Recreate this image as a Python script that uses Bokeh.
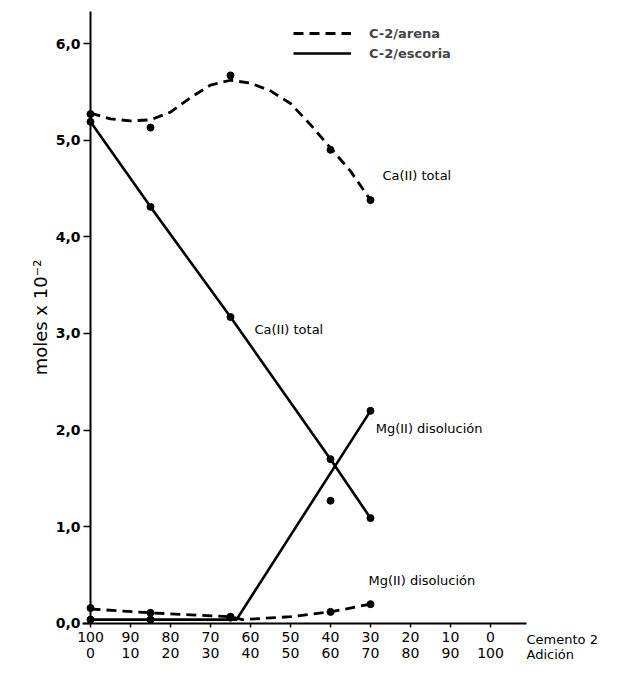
from bokeh.plotting import figure
from bokeh.models import Range1d, LinearAxis, FixedTicker, Label, Legend, LegendItem
from bokeh.embed import file_html
from bokeh.resources import INLINE

# ---- data ----
x_ticks = [0, 10, 20, 30, 40, 50, 60, 70, 80, 90, 100]
cemento_labels = ["100", "90", "80", "70", "60", "50", "40", "30", "20", "10", "0"]
adicion_labels = ["0", "10", "20", "30", "40", "50", "60", "70", "80", "90", "100"]
y_ticks = [0, 1, 2, 3, 4, 5, 6]
y_labels = ["0,0", "1,0", "2,0", "3,0", "4,0", "5,0", "6,0"]

x_pts = [0, 15, 35, 60, 70]
ca_arena = [5.27, 5.13, 5.67, 4.90, 4.38]
ca_escoria = [5.19, 4.31, 3.17, 1.70, 1.09]
mg_arena = [0.16, 0.11, 0.07, 0.12, 0.20]
mg_escoria = [0.04, 0.04, 0.06, 1.27, 2.20]

# smooth curves / trend lines as drawn in the figure
ca_arena_curve_x = [0, 5, 10, 15, 20, 25, 30, 35, 40, 45, 50, 55, 60, 65, 70]
ca_arena_curve_y = [5.28, 5.22, 5.20, 5.21, 5.29, 5.44, 5.57, 5.62, 5.59, 5.51, 5.38, 5.16, 4.92, 4.68, 4.38]
mg_arena_curve_x = [0, 15, 35, 38, 50, 60, 70]
mg_arena_curve_y = [0.15, 0.11, 0.07, 0.04, 0.07, 0.12, 0.20]
mg_escoria_trend_x = [0, 36.5, 70]
mg_escoria_trend_y = [0.04, 0.04, 2.20]

FONT = "DejaVu Sans"

p = figure(width=602, height=663, output_backend="svg", toolbar_location=None,
           x_range=Range1d(-22.5, 128), y_range=Range1d(-0.414, 6.445),
           x_axis_location=None, y_axis_location=None,
           min_border_left=0, min_border_right=0, min_border_top=0, min_border_bottom=0)
p.grid.visible = False
p.outline_line_color = None

# curves
arena_line = p.line(ca_arena_curve_x, ca_arena_curve_y, line_color="black", line_width=2.8, line_dash="10 6")
p.line(mg_arena_curve_x, mg_arena_curve_y, line_color="black", line_width=2.8, line_dash="10 6")
escoria_line = p.line(x_pts, ca_escoria, line_color="black", line_width=2.6)
p.line(mg_escoria_trend_x, mg_escoria_trend_y, line_color="black", line_width=2.6)

for ys in (ca_arena, ca_escoria, mg_arena, mg_escoria):
    p.scatter(x_pts, ys, size=7, color="black")

# x axes (fixed at y = 0, two label rows)
xa = LinearAxis(ticker=FixedTicker(ticks=x_ticks), fixed_location=0, bounds=(-2, 109),
                major_label_overrides={t: l for t, l in zip(x_ticks, cemento_labels)},
                axis_line_width=2, axis_line_color="black",
                major_tick_line_width=1.5, major_tick_out=4, major_tick_in=0,
                minor_tick_line_color=None, major_label_standoff=5,
                major_label_text_font=FONT, major_label_text_font_size="14px",
                major_label_text_color="black")
p.add_layout(xa, "below")
xa2 = LinearAxis(ticker=FixedTicker(ticks=x_ticks), fixed_location=0,
                 major_label_overrides={t: l for t, l in zip(x_ticks, adicion_labels)},
                 axis_line_color=None, major_tick_line_color=None, minor_tick_line_color=None,
                 major_tick_out=0, major_tick_in=0,
                 major_label_standoff=25, major_label_text_font=FONT,
                 major_label_text_font_size="14px", major_label_text_color="black")
p.add_layout(xa2, "below")

# y axis fixed at x = 0
ya = LinearAxis(ticker=FixedTicker(ticks=y_ticks), fixed_location=0, bounds=(0, 6.33),
                major_label_overrides={t: l for t, l in zip(y_ticks, y_labels)},
                axis_line_width=2, axis_line_color="black",
                major_tick_line_width=1.5, major_tick_out=7, major_tick_in=0,
                minor_tick_line_color=None, major_label_standoff=3,
                major_label_text_font=FONT, major_label_text_font_size="14px",
                major_label_text_font_style="bold", major_label_text_color="black",
                axis_label="moles x 10\u207b\u00b2", axis_label_text_font=FONT,
                axis_label_text_font_size="18px", axis_label_text_font_style="normal",
                axis_label_text_color="black", axis_label_standoff=2)
p.add_layout(ya, "left")

# legend
legend = Legend(items=[LegendItem(label="C-2/arena", renderers=[arena_line]),
                       LegendItem(label="C-2/escoria", renderers=[escoria_line])],
                location=(293, 602), glyph_width=58, glyph_height=16, label_height=16,
                label_standoff=18, spacing=4, padding=0, margin=0,
                background_fill_alpha=0, border_line_alpha=0,
                label_text_font=FONT, label_text_font_size="13px",
                label_text_font_style="bold")
p.add_layout(legend)

def lab(x, y, t, size="13px", style="normal"):
    p.add_layout(Label(x=x, y=y, text=t, text_font=FONT, text_font_size=size,
                       text_font_style=style, text_baseline="middle", text_color="black"))

lab(73, 4.63, "Ca(II) total")
lab(41, 3.04, "Ca(II) total")
lab(71.3, 2.02, "Mg(II) disolución")
lab(69.5, 0.44, "Mg(II) disolución")
lab(109, -0.165, "Cemento 2", "13px")
lab(109, -0.325, "Adición", "13px")

open("out.html", "w").write(file_html(p, INLINE))
